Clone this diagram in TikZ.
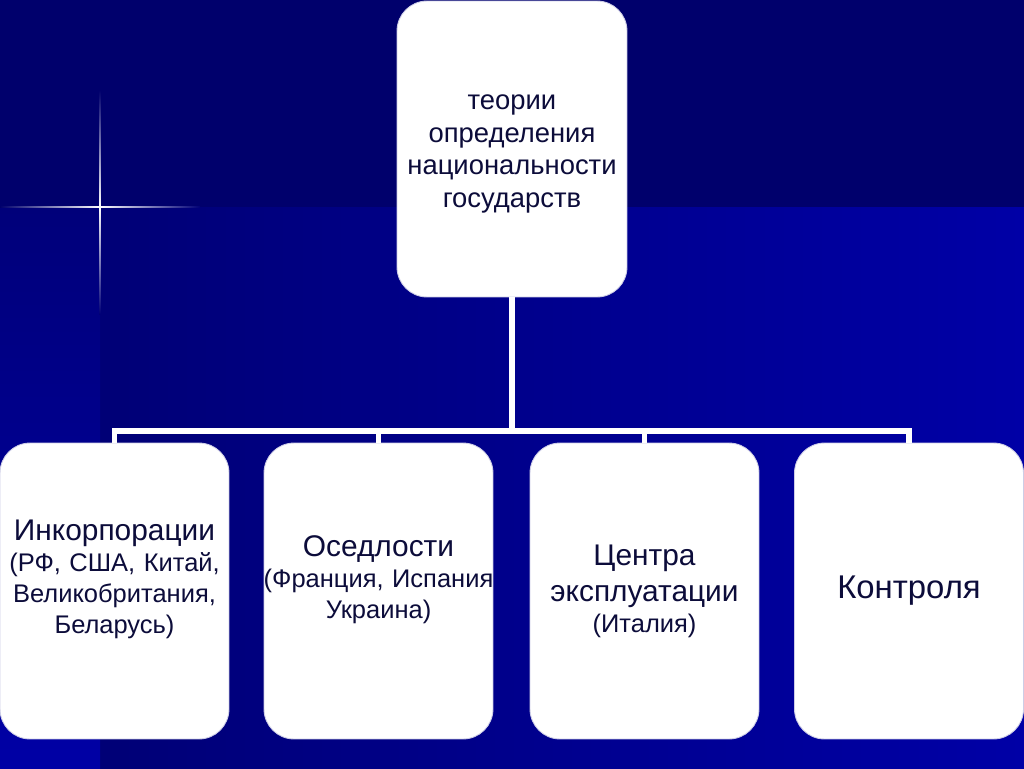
\documentclass[tikz,border=0pt]{standalone}
\usepackage{fontspec}
\setmainfont{Liberation Sans}
\setlength{\parindent}{0pt}

\definecolor{bandnavy}{RGB}{0,0,108}
\definecolor{fieldleft}{RGB}{0,0,118}
\definecolor{fieldright}{RGB}{0,0,166}
\definecolor{sidetop}{RGB}{0,0,122}
\definecolor{sidebottom}{RGB}{0,0,165}
\definecolor{sparkblue}{RGB}{90,120,255}
\definecolor{cardtext}{RGB}{12,12,58}
\definecolor{cardedge}{RGB}{205,205,230}

\newcommand{\cardbig}{\fontsize{17pt}{17.6pt}\selectfont}
\newcommand{\cardsmall}{\fontsize{14.5pt}{17.6pt}\selectfont}

\begin{document}
\begin{tikzpicture}[
    x=0.02cm, y=-0.02cm, % one unit = one pixel of the slide
    card/.style={draw=cardedge, line width=0.5pt, fill=white, rounded corners=0.6cm,
        minimum width=4.58cm, minimum height=5.92cm, text width=4.4cm,
        inner xsep=0.09cm, inner ysep=0pt, align=center, text=cardtext}, % White rounded cards
    lift/.style={execute at end node={\endgraf\vspace*{#1}}}, % Moves the text off the middle
    wire/.style={white, line width=3.4pt} % White tree lines
]

    % Background of the slide
    \useasboundingbox (0,0) rectangle (1024,768);
    \fill[bandnavy] (0,0) rectangle (1024,207);
    \shade[left color=fieldleft, right color=fieldright] (100,207) rectangle (1024,768);
    \shade[top color=sidetop, bottom color=sidebottom] (0,207) rectangle (100,768);

    % Sparkle where the bands meet
    \shade[left color=bandnavy, middle color=sparkblue, right color=white] (0,206.2) rectangle (100,207.8);
    \shade[left color=white, middle color=sparkblue, right color=fieldleft] (100,206.2) rectangle (200,207.8);
    \shade[top color=bandnavy, middle color=sparkblue, bottom color=white] (99.2,90) rectangle (100.8,207);
    \shade[top color=white, middle color=sparkblue, bottom color=fieldleft] (99.2,207) rectangle (100.8,314);

    % Define Coordinates
    \coordinate (bus) at (512,431);

    % Cards
    \node[card, lift=-5.7pt, minimum width=4.6cm, font=\fontsize{15.6pt}{18.6pt}\selectfont] (theory) at (512,149)
        {теории\\ определения\\ национальности\\ государств};
    \node[card, lift=13pt, font=\cardsmall] (incorp) at (114.5,591)
        {{\cardbig Инкорпорации}\\ (РФ, США, Китай,\\ Великобритания,\\ Беларусь)};
    \node[card, lift=13pt, font=\cardsmall] (osed) at (378.5,591)
        {{\cardbig Оседлости}\\ \makebox[\linewidth]{(Франция, Испания}\\ Украина)};
    \node[card, font=\fontsize{17pt}{20.5pt}\selectfont] (centre) at (644.5,591)
        {Центра\\ эксплуатации\\[-3pt] {\cardsmall (Италия)}};
    \node[card, font=\fontsize{18.7pt}{22pt}\selectfont] (control) at (909,591) {Контроля};

    % Tree lines
    \draw[wire] (theory.south) -- (bus);
    \foreach \cardname in {incorp, osed, centre, control}
        \draw[wire] (bus) -| (\cardname.north);

\end{tikzpicture}
\end{document}
